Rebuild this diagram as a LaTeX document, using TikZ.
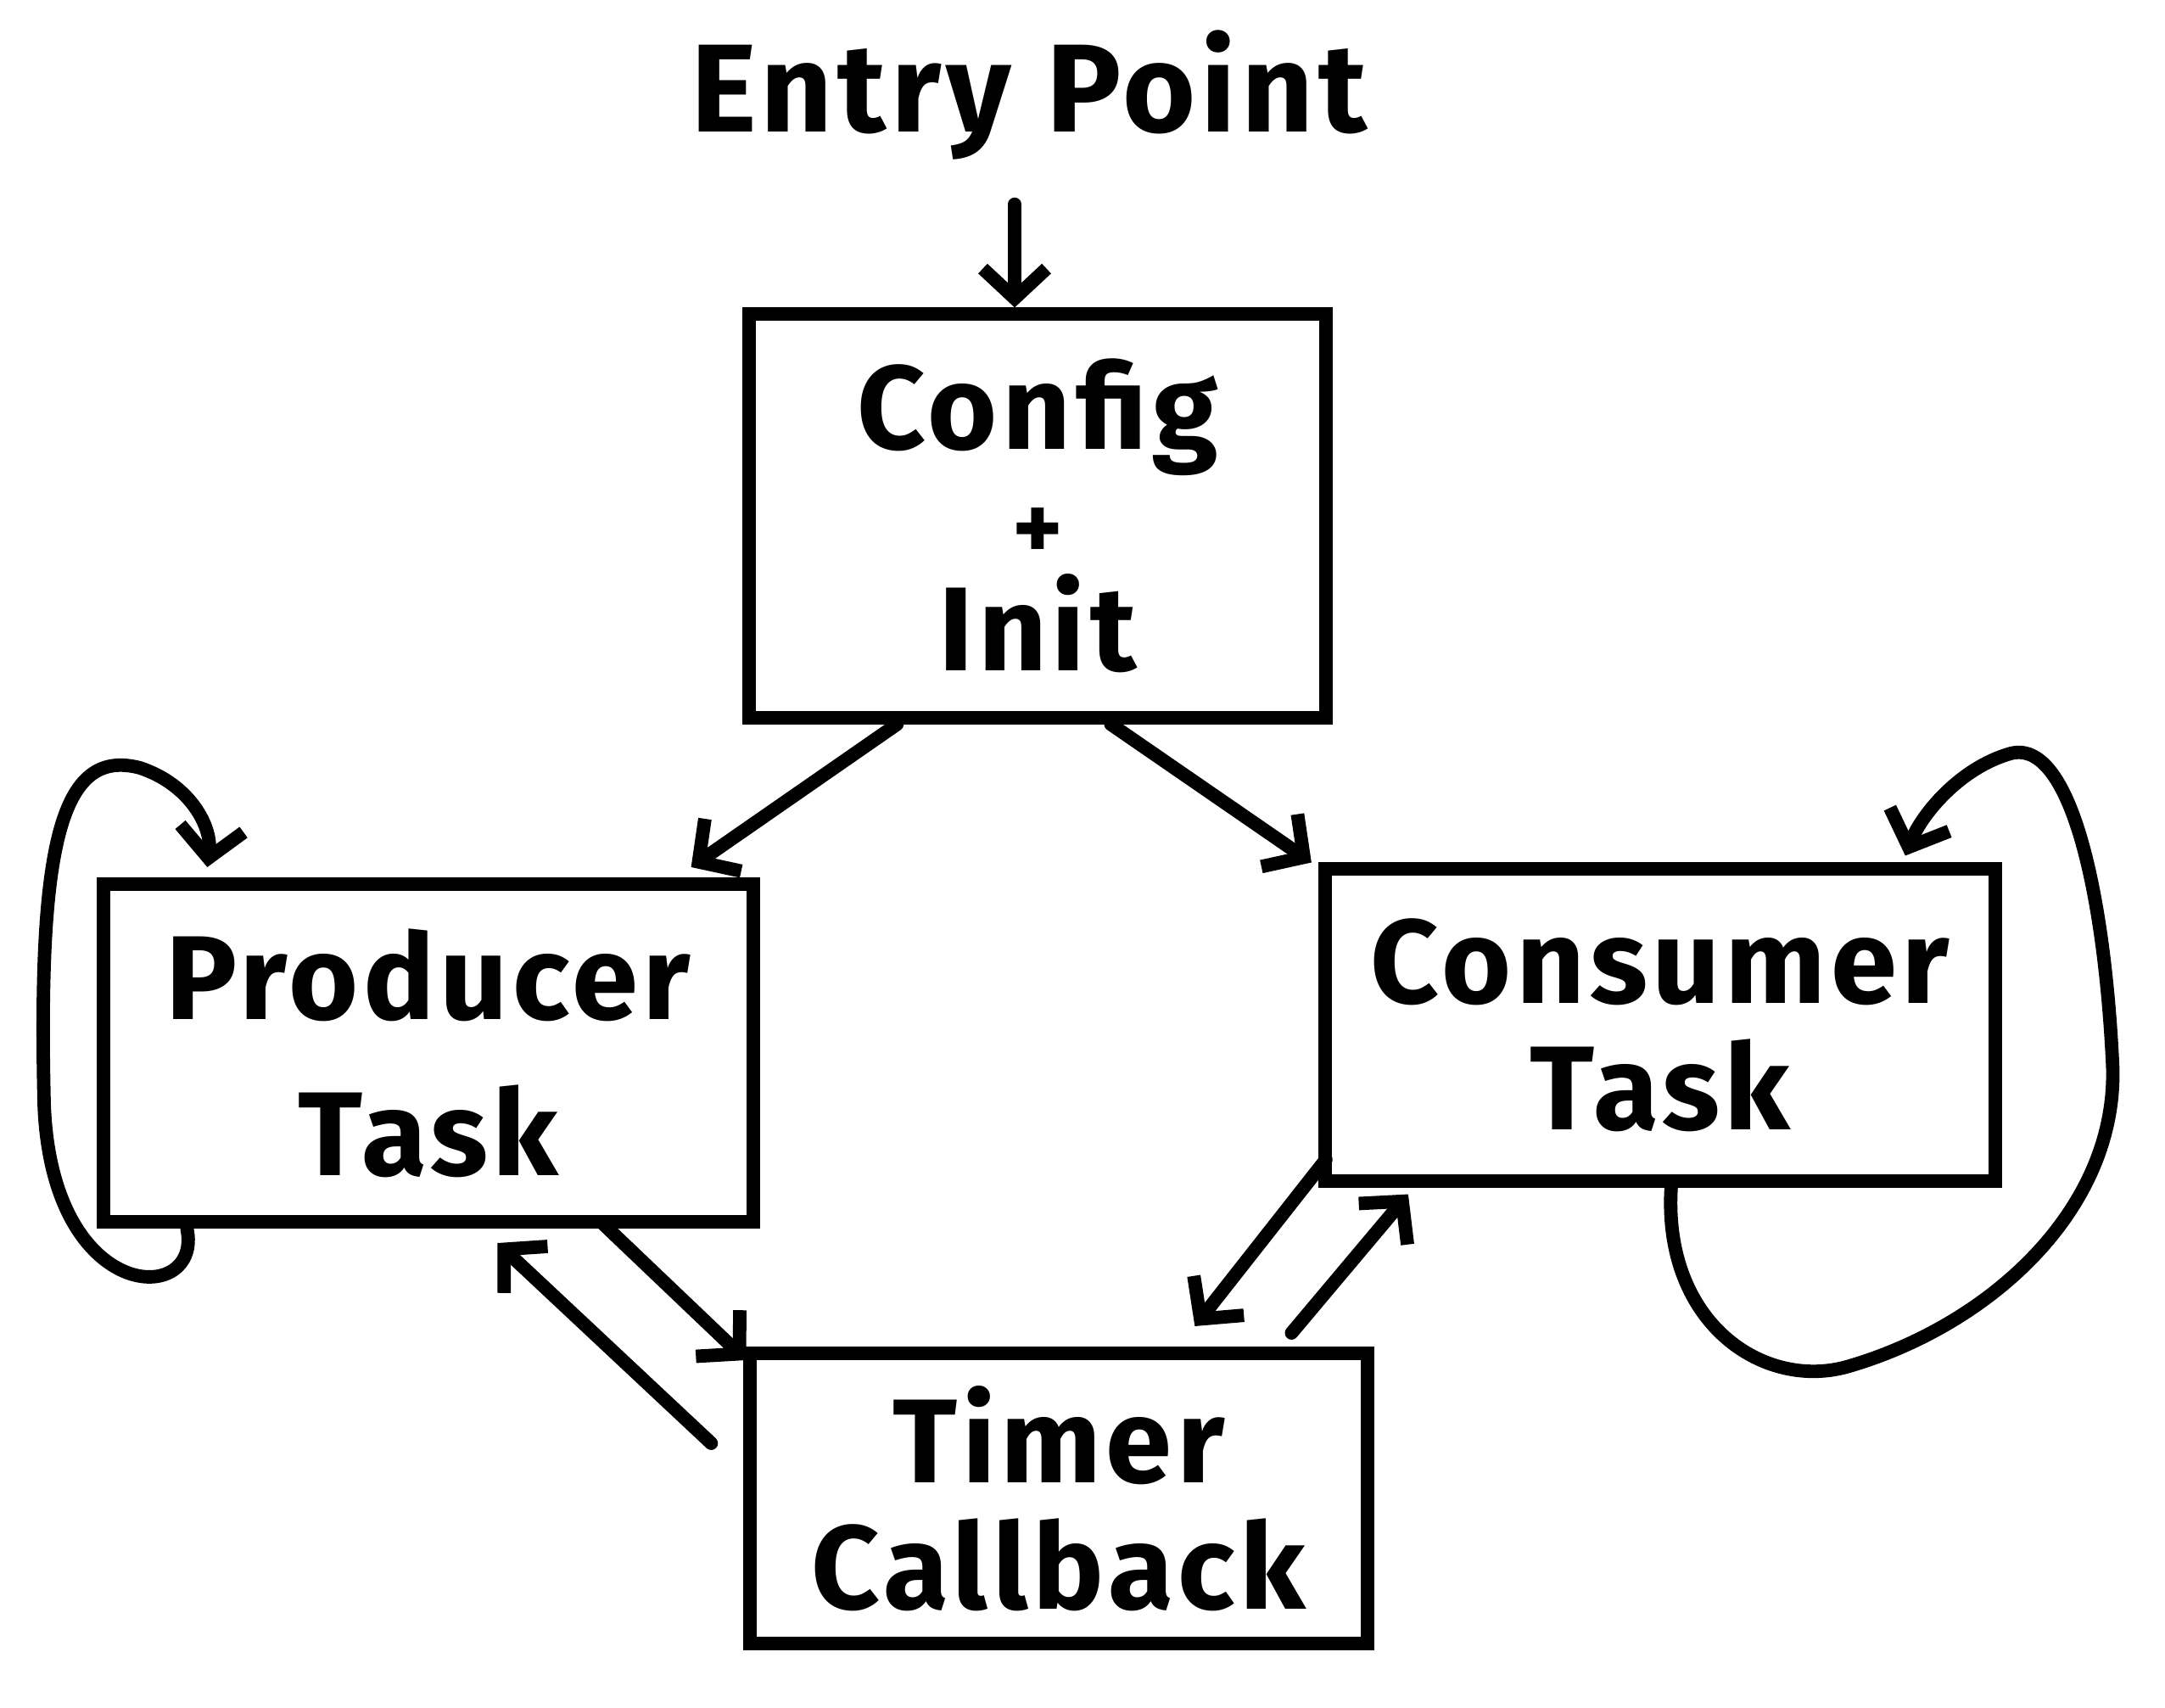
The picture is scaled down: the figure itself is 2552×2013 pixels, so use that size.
\documentclass[tikz,border=0pt]{standalone}
\usepackage{fontspec}
\setmainfont{Fira Sans}[LetterSpace=4]
\usetikzlibrary{arrows.meta,calc}
\begin{document}
\begin{tikzpicture}[x=0.01cm,y=-0.01cm,
  box/.style={draw,line width=4.5pt,align=center,inner sep=0pt,font=\fontsize{40}{48}\selectfont\bfseries},
  conn/.style={line width=4.5pt,line cap=round,-{Straight Barb[length=0.35cm,width=0.75cm,line width=4.5pt]}},
  lbl/.style={font=\fontsize{42}{48}\selectfont\bfseries}]
\useasboundingbox (0,0) rectangle (2552,2013);
\fill[white] (0,0) rectangle (2552,2013);
\node[lbl] (entry) at (1213,112) {Entry Point};
\node[box,minimum width=6.79cm,minimum height=4.75cm] (cfg) at (1223,608)
  {Config\\[-0.38cm]{\fontsize{32}{32}\selectfont +}\\[-0.38cm]Init};
\node[box,minimum width=7.65cm,minimum height=3.98cm] (prod) at (505,1241)
  {Producer\\[0.15cm]Task};
\node[box,minimum width=7.9cm,minimum height=3.67cm] (cons) at (1957,1208)
  {Consumer\\[-0.2cm]Task};
\node[box,minimum width=7.27cm,minimum height=3.42cm] (tim) at (1248,1766)
  {Timer\\[-0.2cm]Callback};
% entry arrow
\draw[conn] ($(entry.south)+(-17,40)$) -- (cfg.north -| 1196,0);
% config to producer / consumer
\draw[conn] ($(cfg.south west)+(182,0)$) -- ($(prod.north east)+(-81,-12)$);
\draw[conn] ($(cfg.south west)+(434,0)$) -- ($(cons.north west)+(-8,0)$);
% producer <-> timer
\draw[conn] ($(prod.south west)+(594,-8)$) -- ($(tim.north west)+(3,16)$);
\draw[conn] ($(tim.north west)+(-38,114)$) -- ($(prod.south west)+(472,17)$);
% consumer <-> timer
\draw[conn] ($(cons.south west)+(9,-33)$) -- ($(tim.north west)+(532,-24)$);
\draw[conn] ($(tim.north west)+(646,-16)$) -- ($(cons.south west)+(106,8)$);
% producer self loop
\draw[conn] ($(prod.south west)+(106,0)$) .. controls (240,1540) and (60,1540) .. (52,1300)
  .. controls (45,1000) and (70,880) .. (165,905) .. controls (225,925) and (250,975) .. ($(prod.north west)+(130,-12)$);
% consumer self loop
\draw[conn] ($(cons.south west)+(416,0)$) .. controls (1960,1560) and (2080,1640) .. (2180,1610)
  .. controls (2350,1560) and (2500,1420) .. (2490,1250)
  .. controls (2480,1050) and (2440,870) .. (2370,888)
  .. controls (2310,905) and (2265,960) .. ($(cons.north west)+(692,-8)$);
\end{tikzpicture}
\end{document}
